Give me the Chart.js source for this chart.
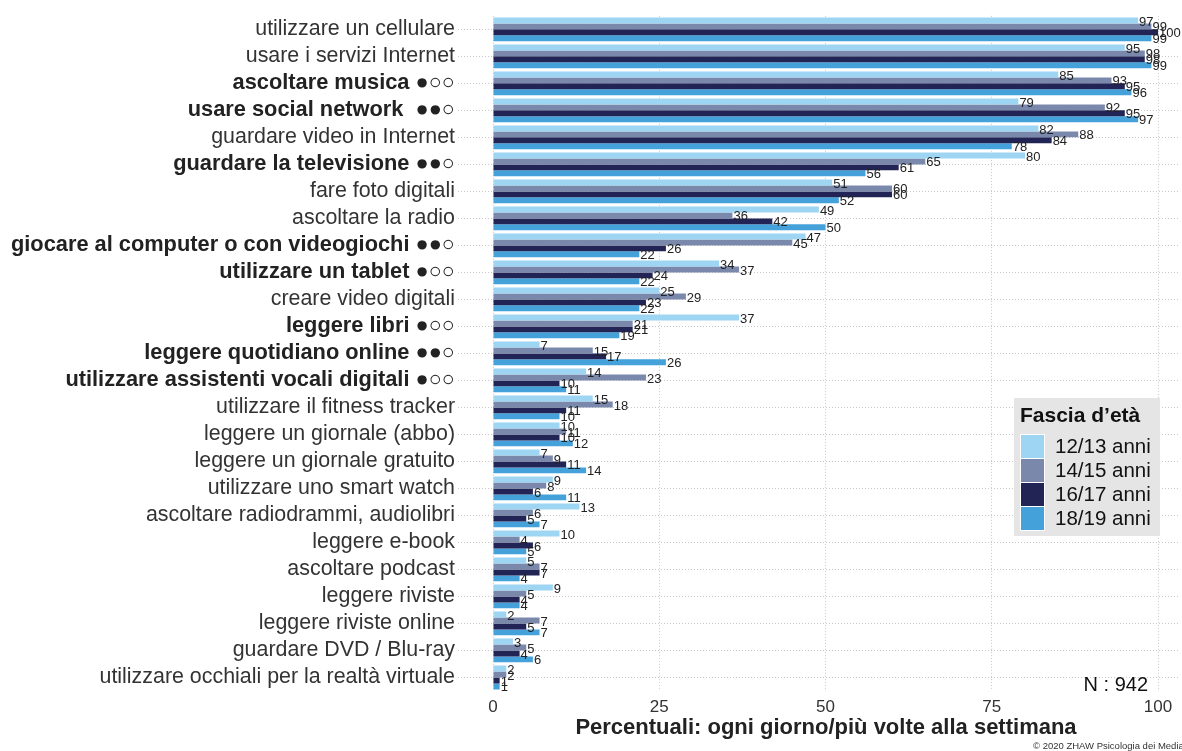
<!DOCTYPE html>
<html lang="it">
<head>
<meta charset="utf-8">
<title>Attività mediali per fascia d'età</title>
<script src="https://cdn.jsdelivr.net/npm/chart.js@4.4.1/dist/chart.umd.min.js"></script>
<style>
  html, body { margin: 0; padding: 0; background: #fff; }
  #wrap { width: 1182px; height: 751px; }
</style>
</head>
<body>
<div id="wrap"><canvas id="chart" width="1182" height="751"></canvas></div>
<script>
const activities = [
  'utilizzare un cellulare',
  'usare i servizi Internet',
  'ascoltare musica',
  'usare social network ',
  'guardare video in Internet',
  'guardare la televisione',
  'fare foto digitali',
  'ascoltare la radio',
  'giocare al computer o con videogiochi',
  'utilizzare un tablet',
  'creare video digitali',
  'leggere libri',
  'leggere quotidiano online',
  'utilizzare assistenti vocali digitali',
  'utilizzare il fitness tracker',
  'leggere un giornale (abbo)',
  'leggere un giornale gratuito',
  'utilizzare uno smart watch',
  'ascoltare radiodrammi, audiolibri',
  'leggere e-book',
  'ascoltare podcast',
  'leggere riviste',
  'leggere riviste online',
  'guardare DVD / Blu-ray',
  'utilizzare occhiali per la realtà virtuale'
];
// highlighted activities: dots after the label, '' for plain rows
const highlights = [
  '', '', '●○○', '●●○', '', '●●○', '', '', '●●○', '●○○', '', '●○○', '●●○', '●○○',
  '', '', '', '', '', '', '', '', '', '', ''
];

const ageGroups = ['12/13 anni', '14/15 anni', '16/17 anni', '18/19 anni'];
const age12_13 = [97, 95, 85, 79, 82, 80, 51, 49, 47, 34, 25, 37, 7, 14, 15, 10, 7, 9, 13, 10, 5, 9, 2, 3, 2];
const age14_15 = [99, 98, 93, 92, 88, 65, 60, 36, 45, 37, 29, 21, 15, 23, 18, 11, 9, 8, 6, 4, 7, 5, 7, 5, 2];
const age16_17 = [100, 98, 95, 95, 84, 61, 60, 42, 26, 24, 23, 21, 17, 10, 11, 10, 11, 6, 5, 6, 7, 4, 5, 4, 1];
const age18_19 = [99, 99, 96, 97, 78, 56, 52, 50, 22, 22, 22, 19, 26, 11, 10, 12, 14, 11, 7, 5, 4, 4, 7, 6, 1];
const xTicks = [0, 25, 50, 75, 100];
const sampleSize = 942;

const groupColors = ['#9dd5f3', '#7a89ab', '#222456', '#45a1d9'];
const FONT = '"Liberation Sans", Arial, Helvetica, sans-serif';
const GRID = '#c8c8c8';

const labels = activities.map((a, i) => highlights[i] ? a + ' ' + highlights[i] : a);

// value printed at the end of each bar
const valueLabels = {
  id: 'valueLabels',
  afterDatasetsDraw(chart) {
    const ctx = chart.ctx;
    ctx.save();
    ctx.font = '13px ' + FONT;
    ctx.fillStyle = '#222';
    ctx.textAlign = 'left';
    ctx.textBaseline = 'middle';
    chart.data.datasets.forEach((ds, di) => {
      chart.getDatasetMeta(di).data.forEach((bar, i) => {
        ctx.fillText(String(ds.data[i]), bar.x + 1, bar.y + 1.5);
      });
    });
    ctx.restore();
  }
};

// legend box, sample size, axis caption and credit line
const extras = {
  id: 'extras',
  afterDraw(chart) {
    const ctx = chart.ctx;
    ctx.save();
    ctx.fillStyle = '#e5e5e5';
    ctx.fillRect(1014, 398, 146, 138);
    ctx.fillStyle = '#111';
    ctx.textBaseline = 'middle';
    ctx.textAlign = 'left';
    ctx.font = 'bold 21px ' + FONT;
    ctx.fillText('Fascia d’età', 1020, 416);
    ctx.font = '20.5px ' + FONT;
    chart.data.datasets.forEach((ds, i) => {
      ctx.fillStyle = '#fff';
      ctx.fillRect(1020, 434 + i * 24, 25, 25);
      ctx.fillStyle = ds.backgroundColor;
      ctx.fillRect(1021, 435 + i * 24, 23, 23);
      ctx.fillStyle = '#111';
      ctx.fillText(ds.label, 1055, 447 + i * 24);
    });

    ctx.textAlign = 'right';
    ctx.font = '20px ' + FONT;
    ctx.fillText('N : ' + sampleSize, 1148, 685);

    ctx.textAlign = 'center';
    ctx.fillStyle = '#222';
    ctx.font = 'bold 22px ' + FONT;
    ctx.fillText('Percentuali: ogni giorno/più volte alla settimana', 826, 728);

    ctx.textAlign = 'left';
    ctx.fillStyle = '#333';
    ctx.font = '9.5px ' + FONT;
    ctx.fillText('© 2020 ZHAW Psicologia dei Media', 1033, 746);
    ctx.restore();
  }
};

const series = [age12_13, age14_15, age16_17, age18_19];

new Chart(document.getElementById('chart'), {
  type: 'bar',
  data: {
    labels: labels,
    datasets: series.map((values, i) => ({
      label: ageGroups[i],
      data: values,
      backgroundColor: groupColors[i],
      borderWidth: 0,
      categoryPercentage: 0.88,
      barPercentage: 1
    }))
  },
  options: {
    indexAxis: 'y',
    responsive: false,
    animation: false,
    devicePixelRatio: 1,
    layout: { padding: { top: 9, right: 2, left: 0, bottom: 0 } },
    plugins: {
      legend: { display: false },
      tooltip: { enabled: false }
    },
    scales: {
      x: {
        min: 0,
        max: 103.3, // panel runs a little past 100
        afterBuildTicks: (scale) => { scale.ticks = xTicks.map(v => ({ value: v })); },
        afterFit: (scale) => { scale.height = 60; },
        grid: { color: GRID, lineWidth: 1, drawTicks: false },
        border: { display: false, dash: [1, 2] },
        ticks: {
          padding: 6,
          maxRotation: 0,
          color: '#333',
          font: { family: FONT, size: 17 }
        }
      },
      y: {
        afterFit: (scale) => { scale.width = 493; },
        grid: {
          offset: false,
          color: GRID,
          lineWidth: 1,
          tickLength: 35,
          tickColor: GRID,
          tickBorderDash: [1, 2]
        },
        border: { display: false, dash: [1, 2] },
        ticks: {
          autoSkip: false,
          padding: 3,
          color: (c) => highlights[c.index] ? '#222' : '#333',
          font: (c) => highlights[c.index]
            ? { family: FONT, size: 21.8, weight: 'bold' }
            : { family: FONT, size: 21.4, weight: 'normal' }
        }
      }
    }
  },
  plugins: [valueLabels, extras]
});
</script>
</body>
</html>
